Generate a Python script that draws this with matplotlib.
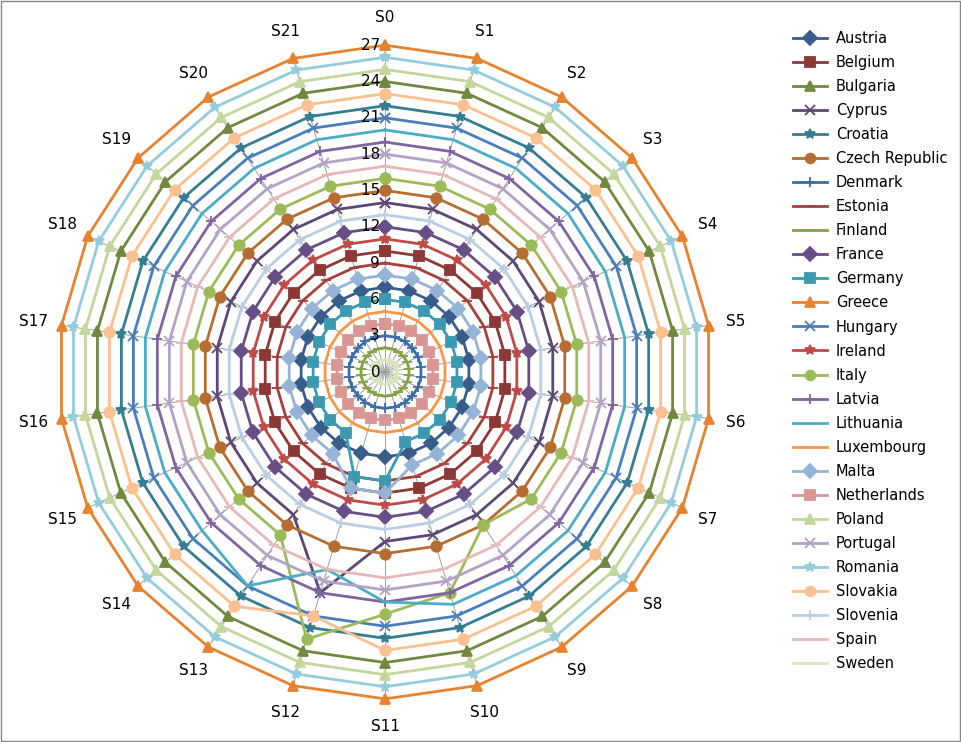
import numpy as np
import matplotlib.pyplot as plt
from matplotlib.lines import Line2D

spokes = [f"S{i}" for i in range(22)]
countries = ["Austria", "Belgium", "Bulgaria", "Cyprus", "Croatia", "Czech Republic",
             "Denmark", "Estonia", "Finland", "France", "Germany", "Greece", "Hungary",
             "Ireland", "Italy", "Latvia", "Lithuania", "Luxembourg", "Malta",
             "Netherlands", "Poland", "Portugal", "Romania", "Slovakia", "Slovenia",
             "Spain", "Sweden"]
base = [7, 10, 24, 14, 22, 15, 3, 9, 2, 12, 6, 27, 21, 11, 16, 19, 20, 5, 8, 4, 25,
        18, 26, 23, 13, 17, 1]
# spoke values that depart from the country's usual value
deviations = {
    "Italy": {9: 15, 10: 19, 11: 20, 12: 23},
    "Lithuania": {11: 19, 12: 17, 13: 21},
    "Slovakia": {12: 21},
    "Cyprus": {12: 19},
    "Malta": {11: 10, 12: 10},
    "Germany": {11: 9, 12: 9},
}
colors = ["#385D8A", "#8C3836", "#71893F", "#5C4776", "#357D91", "#B66D31",
          "#3C6DA5", "#A5403D", "#83A343", "#674E86", "#3B9AB1", "#E7832E",
          "#4A7EBB", "#BE4B48", "#9BBB59", "#8064A2", "#4BACC6", "#F79646",
          "#95B3D7", "#D99694", "#C3D69B", "#B3A2C7", "#93CDDD", "#FAC090",
          "#B9CDE5", "#E6B9B8", "#D7E4BD"]
markers = ["D", "s", "^", "x", "*", "o", "+", "_", "_", "D", "s", "^", "x", "*",
           "o", "+", "", "", "D", "s", "^", "x", "*", "o", "+", "_", "_"]

fig = plt.figure(figsize=(9.61, 7.42), dpi=100)
ax = fig.add_axes([0.0604, 0.0581, 0.6805, 0.881], projection="polar")
ax.set_theta_zero_location("N")
ax.set_theta_direction(-1)
theta = np.linspace(0, 2 * np.pi, len(spokes), endpoint=False)
for t in theta:
    ax.plot([t, t], [0, 27], color="#A0A0A0", lw=0.7, zorder=1)

handles = []
for name, b, c, m in zip(countries, base, colors, markers):
    vals = [b] * len(spokes)
    for k, v in deviations.get(name, {}).items():
        vals[k] = v
    tt = np.append(theta, theta[0])
    vv = np.append(vals, vals[0])
    ax.plot(tt, vv, color=c, lw=2.0, marker=m or None, ms=7.5, mew=1.3,
            clip_on=False, zorder=2)
    handles.append(Line2D([0], [0], color=c, lw=2.0, marker=m or None, ms=7, mew=1.3))

ax.set_ylim(0, 27)
ax.set_yticks([])
ax.set_xticks([])
ax.spines["polar"].set_visible(False)
ax.grid(False)
for r in range(0, 28, 3):
    ax.text(0, r, str(r) + " ", ha="right", va="center", fontsize=11, zorder=5)
for t, lab in zip(theta, spokes):
    ax.text(t, 29.3, lab, ha="center", va="center", fontsize=11)

fig.legend(handles, countries, loc="upper left", bbox_to_anchor=(0.818, 0.968),
           frameon=False, fontsize=10.5, handlelength=2.3, handletextpad=0.6,
           labelspacing=0.62, borderpad=0)
fig.patches.append(plt.Rectangle((0.001, 0.001), 0.998, 0.998, transform=fig.transFigure,
                                 fill=False, ec="#868686", lw=1))
fig.savefig("out.png", dpi=100)
